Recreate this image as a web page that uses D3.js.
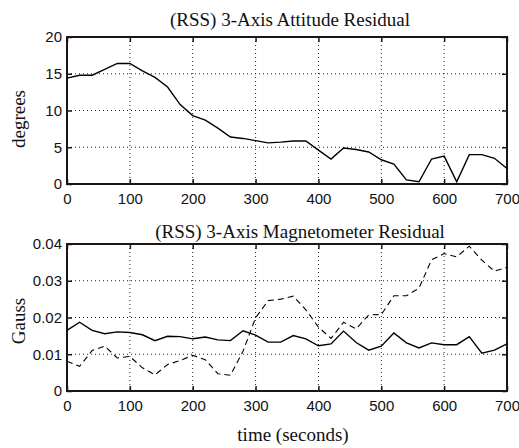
<!DOCTYPE html>
<html>
<head>
<meta charset="utf-8">
<script src="https://cdn.jsdelivr.net/npm/d3@7"></script>
<style>
  body { margin: 0; background: #fff; }
  .tick text { font-family: "Liberation Sans", Arial, sans-serif; font-size: 15px; fill: #111; }
  .lbl { font-family: "Liberation Serif", "Times New Roman", serif; font-size: 19px; fill: #111; }
</style>
</head>
<body>
<svg class="chart" width="519" height="448"></svg>
<script>
/* global d3 */

// time axis (seconds), sampled every 20 s
const time = d3.range(0, 701, 20)
const xTicks = [0, 100, 200, 300, 400, 500, 600, 700]

// attitude residual (degrees)
const attitude = [14.4, 14.8, 14.8, 15.6, 16.4, 16.4, 15.4, 14.5, 13.2, 10.8,
  9.3, 8.7, 7.6, 6.4, 6.2, 5.9, 5.6, 5.7, 5.85, 5.85,
  4.6, 3.4, 4.9, 4.7, 4.35, 3.3, 2.7, 0.55, 0.3, 3.4,
  3.8, 0.3, 4.0, 4.0, 3.5, 2.1]
const attTicks = [0, 5, 10, 15, 20]

// magnetometer residual (Gauss), solid and dashed traces
const magSolid = [0.0165, 0.0187, 0.0165, 0.0156, 0.0161, 0.0159, 0.0153, 0.0137, 0.0149, 0.0148,
  0.0142, 0.0147, 0.0139, 0.0137, 0.0164, 0.0152, 0.0133, 0.0133, 0.0151, 0.0142,
  0.0123, 0.0128, 0.0163, 0.0132, 0.0111, 0.0122, 0.0158, 0.0131, 0.0117, 0.0131,
  0.0126, 0.0126, 0.0148, 0.0103, 0.0111, 0.0128]
const magDashed = [0.0081, 0.0067, 0.0110, 0.0122, 0.0090, 0.0094, 0.0063, 0.0044, 0.0072, 0.0083,
  0.0097, 0.0085, 0.0047, 0.0043, 0.0108, 0.0199, 0.0246, 0.0250, 0.0258, 0.0221,
  0.0174, 0.0143, 0.0187, 0.0169, 0.0207, 0.0208, 0.0259, 0.0259, 0.0280, 0.0357,
  0.0374, 0.0365, 0.0394, 0.0356, 0.0326, 0.0337]
const magTicks = [0, 0.01, 0.02, 0.03, 0.04]

const svg = d3.select('.chart')
const left = 67
const right = 507
const frameColor = '#1e1414'

const x = d3.scaleLinear().domain([0, 700]).range([left, right])

// draw one MATLAB-like panel: frame, dotted grid, inward ticks
const panel = function (top, bottom, yDomain, yTicks, yFmt, title, titlePos, ylabel, yLabelPos) {
  const y = d3.scaleLinear().domain(yDomain).range([bottom, top])
  const g = svg.append('g')

  // dotted grid
  g.append('g').selectAll('line').data(xTicks.slice(1, -1))
    .enter().append('line')
      .attr('x1', d => x(d)).attr('x2', d => x(d))
      .attr('y1', top).attr('y2', bottom)
      .attr('stroke', '#222').attr('stroke-width', 1)
      .attr('stroke-dasharray', '1,3')
  g.append('g').selectAll('line').data(yTicks.slice(1, -1))
    .enter().append('line')
      .attr('x1', left).attr('x2', right)
      .attr('y1', d => y(d)).attr('y2', d => y(d))
      .attr('stroke', '#222').attr('stroke-width', 1)
      .attr('stroke-dasharray', '1,3')

  // axes with inward ticks
  const axB = g.append('g').attr('transform', 'translate(0,' + bottom + ')')
    .call(d3.axisBottom(x).tickValues(xTicks).tickSize(-5).tickPadding(9))
  const axL = g.append('g').attr('transform', 'translate(' + left + ',0)')
    .call(d3.axisLeft(y).tickValues(yTicks).tickFormat(yFmt).tickSize(-5).tickPadding(5))
  const axT = g.append('g').attr('transform', 'translate(0,' + top + ')')
    .call(d3.axisTop(x).tickValues(xTicks).tickSize(-5).tickFormat(''))
  const axR = g.append('g').attr('transform', 'translate(' + right + ',0)')
    .call(d3.axisRight(y).tickValues(yTicks).tickSize(-5).tickFormat(''))
  ;[axB, axL, axT, axR].forEach(a => {
    a.select('.domain').remove()
    a.selectAll('.tick line').attr('stroke', frameColor).attr('stroke-width', 1.5)
  })

  g.append('rect')
    .attr('x', left).attr('y', top)
    .attr('width', right - left).attr('height', bottom - top)
    .attr('fill', 'none').attr('stroke', frameColor).attr('stroke-width', 2)

  g.append('text').attr('class', 'lbl')
    .attr('x', titlePos[0]).attr('y', titlePos[1])
    .attr('text-anchor', 'middle')
    .text(title)

  g.append('text').attr('class', 'lbl')
    .attr('text-anchor', 'middle')
    .attr('transform', 'translate(25,' + yLabelPos + ') rotate(-90)')
    .text(ylabel)

  return y
}

const line = function (yScale, values) {
  return d3.line()
    .x((d, i) => x(time[i]))
    .y(d => yScale(d))(values)
}

// top panel
const yAtt = panel(37, 184, [0, 20], attTicks, d3.format('d'),
  '(RSS) 3-Axis Attitude Residual', [290, 26], 'degrees', 119)
svg.append('path')
  .attr('d', line(yAtt, attitude))
  .attr('fill', 'none').attr('stroke', '#000').attr('stroke-width', 1.4)

// bottom panel
const yMag = panel(244, 391, [0, 0.04], magTicks, d => d === 0 ? '0' : d3.format('.2f')(d),
  '(RSS) 3-Axis Magnetometer Residual', [300, 238], 'Gauss', 321)
svg.append('path')
  .attr('d', line(yMag, magDashed))
  .attr('fill', 'none').attr('stroke', '#000').attr('stroke-width', 1.1)
  .attr('stroke-dasharray', '6,4')
svg.append('path')
  .attr('d', line(yMag, magSolid))
  .attr('fill', 'none').attr('stroke', '#000').attr('stroke-width', 1.4)

svg.append('text').attr('class', 'lbl')
  .attr('x', 293).attr('y', 441)
  .attr('text-anchor', 'middle')
  .text('time (seconds)')
</script>
</body>
</html>
